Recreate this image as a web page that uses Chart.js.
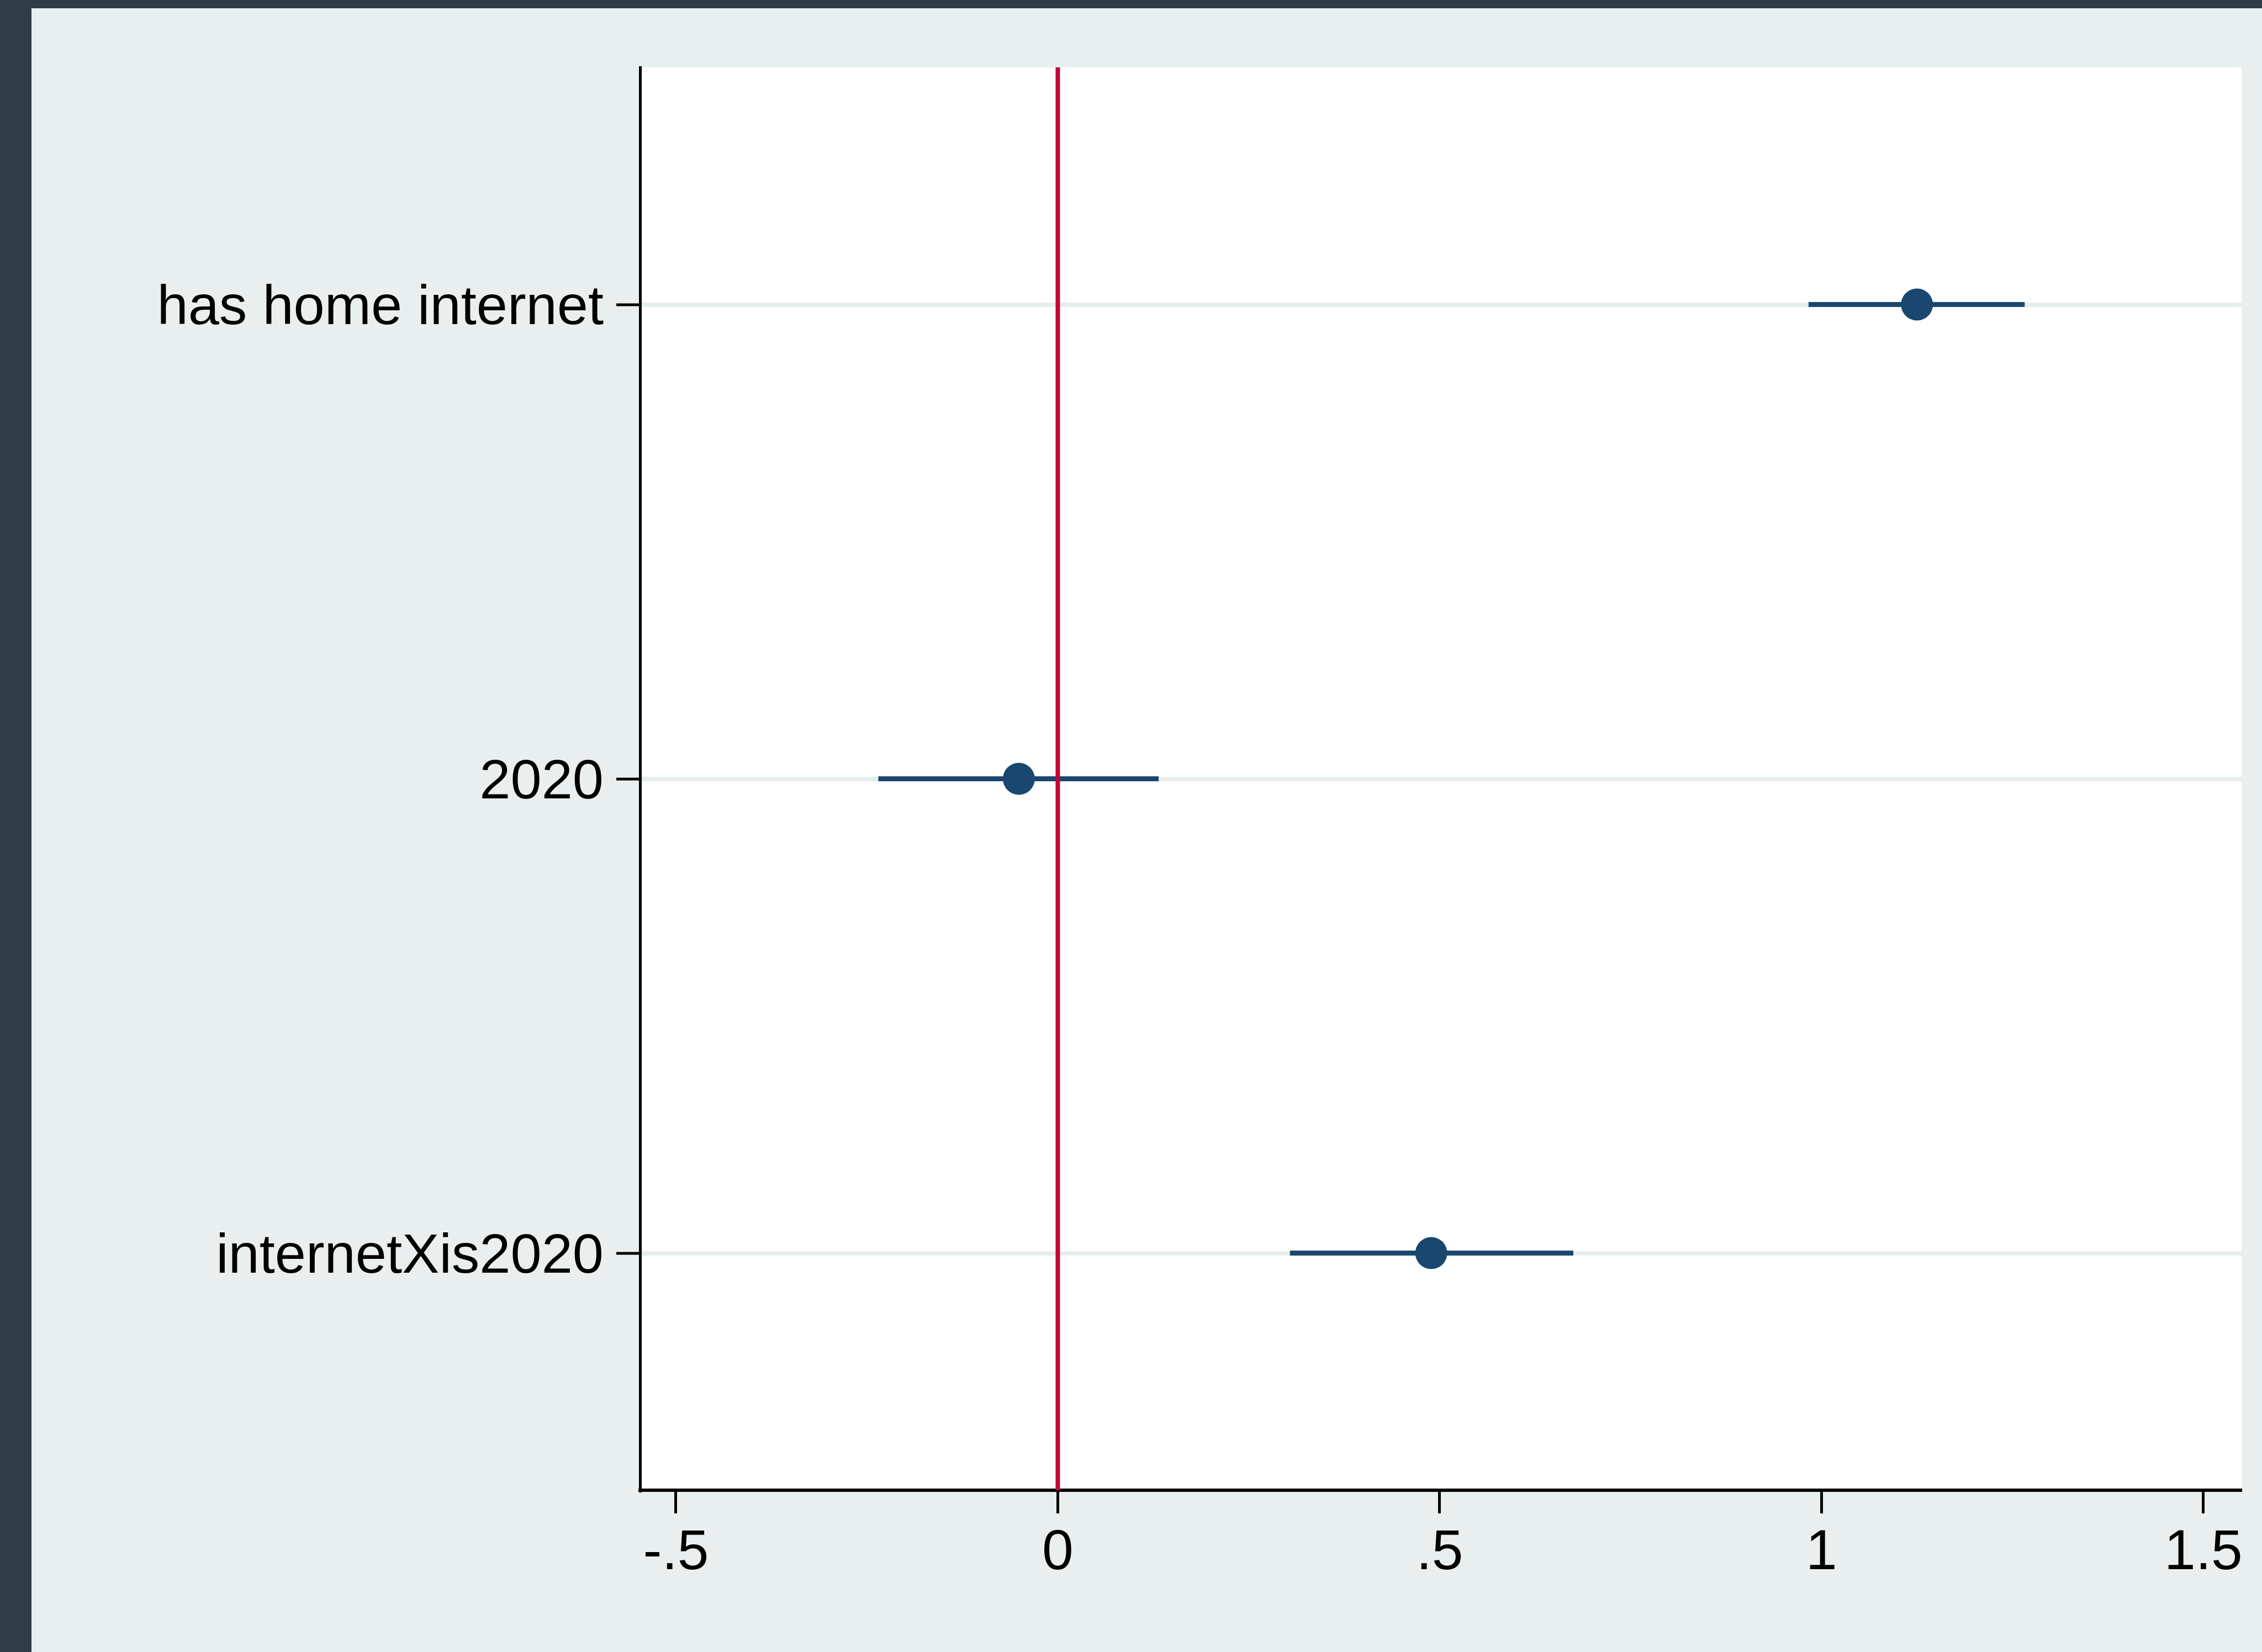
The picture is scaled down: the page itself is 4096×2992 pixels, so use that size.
<!DOCTYPE html>
<html>
<head>
<meta charset="utf-8">
<script src="https://cdn.jsdelivr.net/npm/chart.js@4/dist/chart.umd.min.js"></script>
<style>
  html, body { margin: 0; padding: 0; background: #2f3e46; }
  canvas { display: block; }
</style>
</head>
<body>
<canvas id="coefChart" width="4096" height="2992"></canvas>
<script>
// coefficients and 95% intervals
const categories = ['has home internet', '2020', 'internetXis2020'];
const estimates = [1.125, -0.051, 0.489];
const ciLow = [0.983, -0.235, 0.304];
const ciHigh = [1.266, 0.132, 0.675];

const xTickValues = [-0.5, 0, 0.5, 1, 1.5];
const xTickLabels = ['-.5', '0', '.5', '1', '1.5'];
const yTickValues = [1, 2, 3];

const navy = '#1a476f';
const cranberry = '#c10534';
const frame = '#2f3e46';
const paper = '#e9efef';

const pointData = estimates.map(function (v, i) { return { x: v, y: i + 1 }; });

// one short line per row for the interval
const ciSets = categories.map(function (c, i) {
    return {
        type: 'line',
        label: c + ' CI',
        data: [{ x: ciLow[i], y: i + 1 }, { x: ciHigh[i], y: i + 1 }],
        borderColor: navy,
        borderWidth: 9,
        borderCapStyle: 'butt',
        pointRadius: 0,
        order: 2
    };
});

const backdrop = {
    id: 'backdrop',
    beforeDraw: function (chart) {
        const ctx = chart.ctx;
        const a = chart.chartArea;
        ctx.save();
        ctx.fillStyle = frame;
        ctx.fillRect(0, 0, chart.width, chart.height);
        ctx.fillStyle = paper;
        ctx.fillRect(57, 15, chart.width - 57, chart.height - 15);
        ctx.fillStyle = '#ffffff';
        ctx.fillRect(a.left, a.top, a.right - a.left, a.bottom - a.top);
        ctx.restore();
    }
};

const ctx = document.getElementById('coefChart').getContext('2d');
const coefChart = new Chart(ctx, {
    type: 'scatter',
    data: {
        datasets: [
            {
                label: 'estimate',
                data: pointData,
                backgroundColor: navy,
                borderColor: navy,
                borderWidth: 0,
                pointRadius: 29,
                order: 0
            },
            {
                type: 'line',
                label: 'zero',
                data: [{ x: 0, y: 0.5 }, { x: 0, y: 3.5 }],
                borderColor: cranberry,
                borderWidth: 8,
                pointRadius: 0,
                order: 1
            }
        ].concat(ciSets)
    },
    options: {
        responsive: false,
        animation: false,
        devicePixelRatio: 1,
        layout: {
            padding: { top: 122, right: 37, left: 0, bottom: 0 }
        },
        plugins: {
            legend: { display: false },
            tooltip: { enabled: false }
        },
        scales: {
            x: {
                type: 'linear',
                min: -0.547,
                max: 1.55,
                afterBuildTicks: function (scale) {
                    scale.ticks = xTickValues.map(function (v) { return { value: v }; });
                },
                afterFit: function (scale) { scale.height = 293; },
                border: { display: true, color: '#000000', width: 6 },
                grid: {
                    drawOnChartArea: false,
                    drawTicks: true,
                    tickLength: 42,
                    tickColor: '#000000',
                    tickWidth: 5
                },
                ticks: {
                    autoSkip: false,
                    maxRotation: 0,
                    padding: 12,
                    color: '#000000',
                    font: { family: 'Liberation Sans', size: 102 },
                    callback: function (value) {
                        const k = xTickValues.indexOf(value);
                        return k >= 0 ? xTickLabels[k] : '';
                    }
                }
            },
            y: {
                type: 'linear',
                min: 0.5,
                max: 3.5,
                reverse: true,
                afterBuildTicks: function (scale) {
                    scale.ticks = yTickValues.map(function (v) { return { value: v }; });
                },
                afterFit: function (scale) { scale.width = 1159; },
                border: { display: true, color: '#000000', width: 5 },
                grid: {
                    drawOnChartArea: true,
                    color: '#e6eded',
                    lineWidth: 8,
                    drawTicks: true,
                    tickLength: 43,
                    tickColor: '#000000',
                    tickWidth: 5
                },
                ticks: {
                    autoSkip: false,
                    padding: 23,
                    labelOffset: 8,
                    color: '#000000',
                    font: { family: 'Liberation Sans', size: 101 },
                    callback: function (value) {
                        return categories[value - 1] || '';
                    }
                }
            }
        }
    },
    plugins: [backdrop]
});
</script>
</body>
</html>
